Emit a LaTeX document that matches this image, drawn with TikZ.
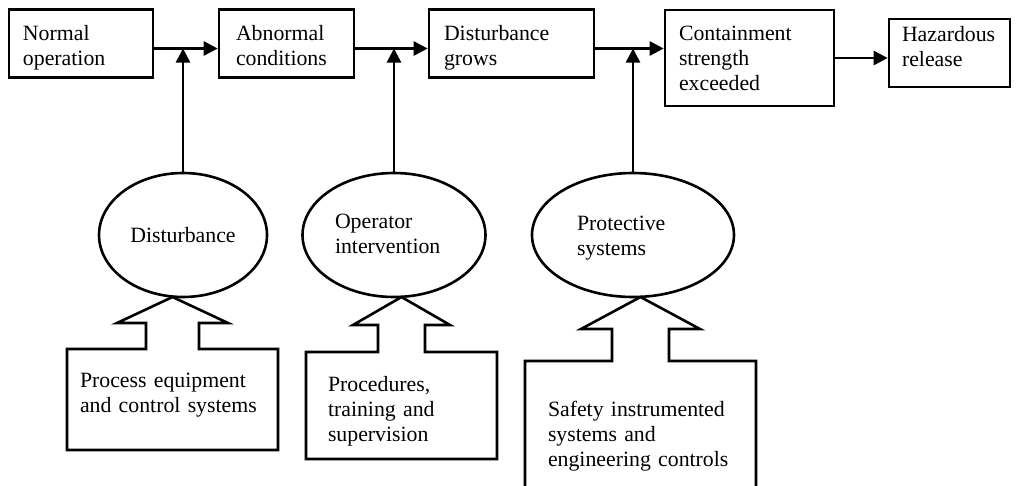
\documentclass[tikz,border=0pt]{standalone}
\usepackage{fontspec}
\setmainfont{Liberation Serif}
\usetikzlibrary{arrows.meta,shapes.geometric}
\begin{document}
\begin{tikzpicture}[x=1pt,y=-1pt,
  lw/.style={line width=2.6pt},
  txt/.style={font=\fontsize{21.8}{25}\selectfont, align=left, inner sep=0pt},
  box/.style={txt, draw, lw, rectangle},
  lowbox/.style={txt, rectangle, outer sep=0pt},
  oval/.style={txt, draw, lw, ellipse},
  tb/.style={text height=15pt, text depth=#1},
  arr/.style={lw, -{Triangle[length=14pt,width=14pt]}},
  outl/.style={lw, line join=miter},
]
\useasboundingbox (0,0) rectangle (1034,485);

% top row
\node[box, tb=21pt, minimum width=144pt, minimum height=68pt, text width=116pt] (B1) at (81,43.3) {Normal\\operation};
\node[box, tb=21pt, minimum width=135pt, minimum height=68pt, text width=101pt] (B2) at (286.5,43.3) {Abnormal\\conditions};
\node[box, tb=21pt, minimum width=165pt, minimum height=68pt, text width=135pt] (B3) at (511.5,43.3) {Disturbance\\grows};
\node[box, tb=51pt, minimum width=169pt, minimum height=96pt, text width=141pt] (B4) at (749.5,58) {Containment\\strength\\exceeded};
\node[box, tb=37.6pt, minimum width=121pt, minimum height=68pt, text width=95pt] (B5) at (949.5,53) {Hazardous\\release};

% ellipses
\node[oval, minimum width=168pt, minimum height=124pt, align=center] (E1) at (183,235) {Disturbance};
\node[oval, tb=29pt, minimum width=183pt, minimum height=124pt, text width=118pt] (E2) at (394,235) {Operator\\intervention};
\node[oval, tb=25pt, minimum width=202pt, minimum height=124pt, text width=112pt] (E3) at (633,235) {Protective\\systems};

% bottom boxes (text)
\node[lowbox, tb=39pt, minimum width=211pt, minimum height=101pt, text width=185pt] (L1) at (172.5,399.5) {Process equipment\\and control systems};
\node[lowbox, tb=44pt, minimum width=191pt, minimum height=107pt, text width=147pt] (L2) at (401.5,405.5) {Procedures,\\training and\\supervision};
\node[lowbox, tb=54pt, minimum width=231pt, minimum height=149pt, text width=185pt] (L3) at (640.5,435.5) {Safety instrumented\\systems and\\engineering controls};

% bottom boxes with block arrows (outlines)
\draw[outl] (L1.north west) -- (146,349) -- (146,323) -- (117,323) -- (172.5,297) -- (228,323) -- (199,323) -- (199,349) -- (L1.north east) -- (L1.south east) -- (L1.south west) -- cycle;
\draw[outl] (L2.north west) -- (378,352) -- (378,325) -- (353,325) -- (401.5,297) -- (450,325) -- (425,325) -- (425,352) -- (L2.north east) -- (L2.south east) -- (L2.south west) -- cycle;
\draw[outl] (L3.south west) -- (L3.north west) -- (612,361) -- (612,329) -- (581,329) -- (640.5,297) -- (700,329) -- (669,329) -- (669,361) -- (L3.north east) -- (L3.south east);

% main flow
\coordinate (row) at (0,48.5);
\draw[arr] (B1.east |- row) -- (B2.west |- row);
\draw[arr] (B2.east |- row) -- (B3.west |- row);
\draw[arr] (B3.east |- row) -- (B4.west |- row);
\draw[arr] (B4.east) -- (B5.west |- B4.east);

% influences
\draw[arr] (E1.north) -- (E1.north |- row);
\draw[arr] (E2.north) -- (E2.north |- row);
\draw[arr] (E3.north) -- (E3.north |- row);
\end{tikzpicture}
\end{document}
